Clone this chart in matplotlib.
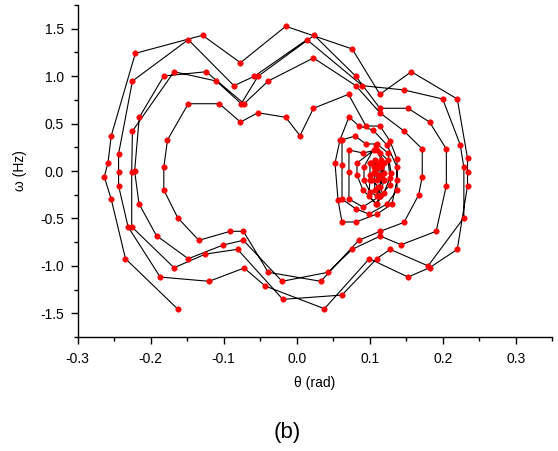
import matplotlib
matplotlib.use("Agg")
import matplotlib.pyplot as plt
from matplotlib.ticker import MultipleLocator, FixedLocator

plt.rcParams['font.family'] = ['Liberation Sans', 'DejaVu Sans']

# trajectory (theta in rad, omega in Hz), in time order
theta = [
    # orbit 1
    -0.163, -0.2345, -0.254, -0.2636, -0.2585, -0.254, -0.221, -0.129, -0.077, -0.015,
    0.076, 0.114, 0.157, 0.220, 0.234, 0.234, 0.234, 0.220, 0.182, 0.1525,
    0.0995, 0.038, -0.043, -0.072, -0.120, -0.187,
    # orbit 2
    -0.231, -0.244, -0.244, -0.244, -0.225, -0.1485, -0.086, -0.058, 0.014, 0.090,
    0.147, 0.200, 0.224, 0.229, 0.229, 0.180, 0.128, 0.1096, 0.062, -0.019,
    -0.081, -0.125, -0.168,
    # orbit 3
    -0.226, -0.226, -0.225, -0.168, -0.110, -0.076, -0.053, 0.024, 0.081, 0.114,
    0.1525, 0.182, 0.205, 0.205, 0.191, 0.143, 0.1145, 0.076, 0.043, -0.020,
    -0.073, -0.101, -0.1485, -0.192, -0.216,
    # orbit 4
    -0.222, -0.2156, -0.182, -0.124, -0.072, -0.039, 0.023, 0.081, 0.114, 0.147,
    0.172, 0.172, 0.167, 0.147, 0.1145, 0.085, 0.033, -0.039, -0.073, -0.091,
    -0.134, -0.163, -0.182,
    # orbit 5 (left loop, then trapped in right well)
    -0.182, -0.177, -0.1485, -0.106, -0.077, -0.053, -0.015, 0.0045, 0.023, 0.071,
    # right-well spiral
    0.0949, 0.1141, 0.1278, 0.1374, 0.1374, 0.1305, 0.1100, 0.0812, 0.0621, 0.0566,
    0.0525, 0.0593, 0.0716,
    0.0853, 0.1045, 0.1237, 0.1374, 0.1374, 0.1237, 0.0990, 0.0812, 0.0621, 0.0621,
    0.0621, 0.0799,
    0.0949, 0.1100, 0.1251, 0.1292, 0.1278, 0.1141, 0.0908, 0.0716, 0.0716, 0.0716,
    0.0908,
    0.1096, 0.1251, 0.1278, 0.1192, 0.1096, 0.0908, 0.0826, 0.0826,
    0.1059, 0.1141, 0.1196, 0.1196, 0.1141, 0.1086, 0.0990, 0.1004, 0.1004,
    0.1014, 0.1141, 0.1192, 0.1141, 0.1096, 0.1004, 0.0922, 0.0922,
    0.1086, 0.1155, 0.1155, 0.1127, 0.1073, 0.1059, 0.1073,
    0.1063, 0.1159, 0.1192, 0.1118, 0.1027, 0.1004, 0.1073,
    0.1100, 0.1127, 0.1127, 0.1100, 0.1073, 0.1100,
]
omega = [
    # orbit 1
    -1.454, -0.924, -0.298, -0.060, 0.084, 0.372, 1.240, 1.430, 1.141, 1.525,
    1.286, 0.808, 1.046, 0.759, 0.134, -0.011, -0.155, -0.825, -1.019, -1.117,
    -0.924, -1.451, -1.212, -1.022, -1.162, -1.117,
    # orbit 2
    -0.587, -0.155, -0.007, 0.179, 0.948, 1.384, 0.899, 0.998, 1.384, 0.899,
    0.854, 0.759, 0.277, 0.039, -0.492, -1.000, -0.825, -0.924, -1.307, -1.352,
    -0.825, -0.875, -1.019,
    # orbit 3
    -0.587, -0.011, 0.421, 1.046, 0.948, 0.709, 0.998, 1.430, 0.998, 0.661,
    0.661, 0.516, 0.232, -0.155, -0.635, -0.777, -0.685, -0.825, -1.067, -1.162,
    -0.730, -0.780, -0.924, -0.682, -0.345,
    # orbit 4
    0.000, 0.566, 1.001, 1.046, 0.709, 0.948, 1.191, 0.899, 0.614, 0.421,
    0.232, -0.060, -0.253, -0.541, -0.635, -0.730, -1.162, -1.067, -0.635, -0.635,
    -0.730, -0.492, -0.200,
    # orbit 5
    0.039, 0.327, 0.709, 0.709, 0.516, 0.614, 0.566, 0.372, 0.661, 0.808,
    # right-well spiral
    0.474, 0.474, 0.316, 0.126, -0.095, -0.348, -0.453, -0.537, -0.537, -0.306,
    0.084, 0.327, 0.569,
    0.474, 0.432, 0.274, 0.042, -0.200, -0.348, -0.453, -0.400, -0.295, 0.063,
    0.327, 0.369,
    0.285, 0.285, 0.190, -0.021, -0.148, -0.263, -0.379, -0.295, -0.011, 0.221,
    0.190,
    0.221, 0.116, -0.071, -0.235, -0.348, -0.200, -0.042, 0.084,
    0.221, 0.190, 0.084, -0.095, -0.263, -0.348, -0.263, -0.095, 0.084,
    0.084, 0.084, -0.018, -0.165, -0.263, -0.218, -0.095, 0.045,
    0.274, 0.116, -0.063, -0.263, -0.200, -0.011, 0.116,
    0.045, 0.045, -0.095, -0.165, -0.095, -0.045, -0.018,
    0.063, 0.042, -0.042, -0.095, -0.021, 0.032,
]

x_ticks = [-0.3, -0.2, -0.1, 0.0, 0.1, 0.2, 0.3]
x_ticklabels = ["-0.3", "-0.2", "-0.1", "0.0", "0.1", "0.2", "0.3"]
y_ticks = [-1.5, -1.0, -0.5, 0.0, 0.5, 1.0, 1.5]
y_ticklabels = ["-1.5", "-1.0", "-0.5", "0.0", "0.5", "1.0", "1.5"]

fig = plt.figure(figsize=(5.58, 4.51), dpi=100)
ax = fig.add_axes([0.1392, 0.2525, 0.8504, 0.7366])

ax.plot(theta, omega, color='black', lw=0.8, zorder=2)
ax.plot(theta, omega, linestyle='none', marker='o', markersize=4.0,
        markerfacecolor='red', markeredgecolor='red', markeredgewidth=0.3, zorder=3)

ax.set_xlim(-0.3, 0.35)
ax.set_ylim(-1.75, 1.75)
ax.xaxis.set_major_locator(FixedLocator(x_ticks))
ax.set_xticklabels(x_ticklabels)
ax.yaxis.set_major_locator(FixedLocator(y_ticks))
ax.set_yticklabels(y_ticklabels)
ax.xaxis.set_minor_locator(MultipleLocator(0.05))
ax.yaxis.set_minor_locator(MultipleLocator(0.25))

for s in ['top', 'right']:
    ax.spines[s].set_visible(False)
for s in ['left', 'bottom']:
    ax.spines[s].set_linewidth(1.0)

ax.tick_params(which='major', direction='out', length=5, width=1.0, labelsize=10)
ax.tick_params(axis='x', which='major', pad=6)
ax.tick_params(axis='y', which='major', pad=5)
ax.tick_params(which='minor', direction='out', length=3, width=1.0)

ax.set_xlabel("θ (rad)", fontsize=10, labelpad=7)
ax.set_ylabel("ω (Hz)", fontsize=10, labelpad=9)

fig.text(0.515, 0.042, "(b)", fontsize=16, ha='center', va='center')

fig.savefig("out.png", dpi=100)
